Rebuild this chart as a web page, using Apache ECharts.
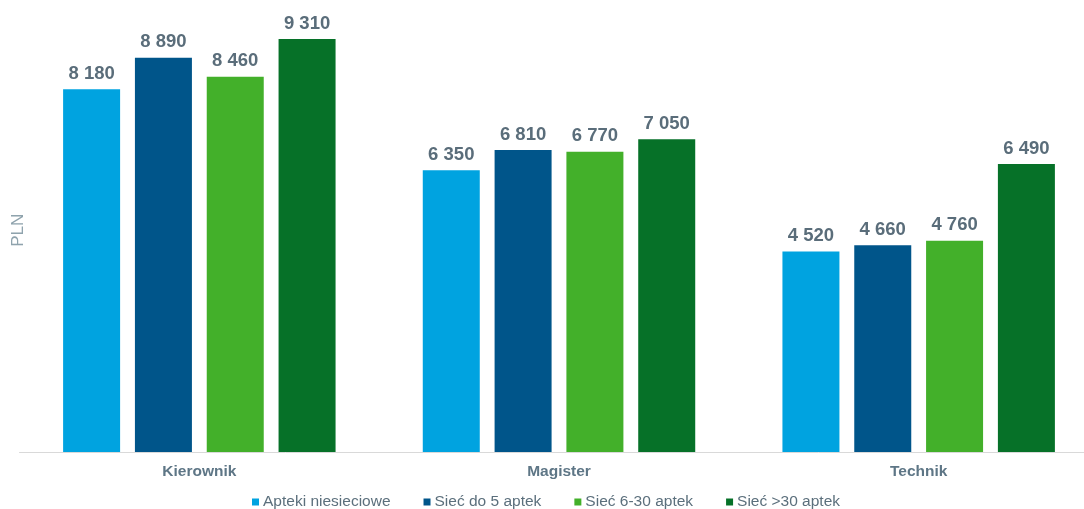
<!DOCTYPE html>
<html>
<head>
<meta charset="utf-8">
<script src="https://cdn.jsdelivr.net/npm/echarts@6/dist/echarts.min.js"></script>
<style>
html,body{margin:0;padding:0;background:#fff;}
#c{width:1084px;height:509px;}
</style>
</head>
<body>
<div id="c"></div>
<script>
const categories = ['Kierownik', 'Magister', 'Technik'];
const seriesNames = ['Apteki niesieciowe', 'Sieć do 5 aptek', 'Sieć 6-30 aptek', 'Sieć >30 aptek'];
const apteki = [8180, 6350, 4520];
const siec5 = [8890, 6810, 4660];
const siec630 = [8460, 6770, 4760];
const siec30 = [9310, 7050, 6490];
const colors = ['#00a3e0', '#00558a', '#43b02a', '#067128'];

const values = [apteki, siec5, siec630, siec30];
const fmt = v => String(v).replace(/\B(?=(\d{3})+(?!\d))/g, ' ');

const chart = echarts.init(document.getElementById('c'));
chart.setOption({
  animation: false,
  color: colors,
  grid: { left: 19.5, right: -14.5, top: 8.4, bottom: 57, containLabel: false, outerBoundsMode: 'none' },
  legend: {
    left: 247, top: 489,
    itemWidth: 7, itemHeight: 7, itemGap: 33,
    icon: 'rect',
    textStyle: { fontFamily: 'Liberation Sans, Arial, sans-serif', fontSize: 15.5, color: '#5b6f7c', padding: [0, 0, 0, -1] },
    data: seriesNames
  },
  xAxis: {
    type: 'category',
    data: categories,
    axisLine: { show: true, lineStyle: { color: '#d9d9d9', width: 1 } },
    axisTick: { show: false },
    axisLabel: { fontFamily: 'Liberation Sans, Arial, sans-serif', fontSize: 15.5, fontWeight: 'bold', color: '#5e7686', margin: 12 }
  },
  yAxis: {
    type: 'value',
    min: 0, max: 10000,
    name: 'PLN',
    nameLocation: 'middle',
    nameRotate: 90,
    nameGap: -7,
    nameTextStyle: { fontFamily: 'Liberation Sans, Arial, sans-serif', fontSize: 17, color: '#8fa3ad' },
    axisLine: { show: false },
    axisTick: { show: false },
    axisLabel: { show: false },
    splitLine: { show: false }
  },
  series: values.map((v, i) => ({
    name: seriesNames[i],
    type: 'bar',
    data: v,
    barWidth: 57,
    barGap: '26%',
    itemStyle: { color: colors[i] },
    label: {
      show: true,
      position: 'top',
      distance: 6,
      formatter: p => fmt(p.value),
      fontFamily: 'Liberation Sans, Arial, sans-serif',
      fontSize: 18.5,
      fontWeight: 'bold',
      color: '#5a6d7a'
    }
  }))
});
</script>
</body>
</html>
